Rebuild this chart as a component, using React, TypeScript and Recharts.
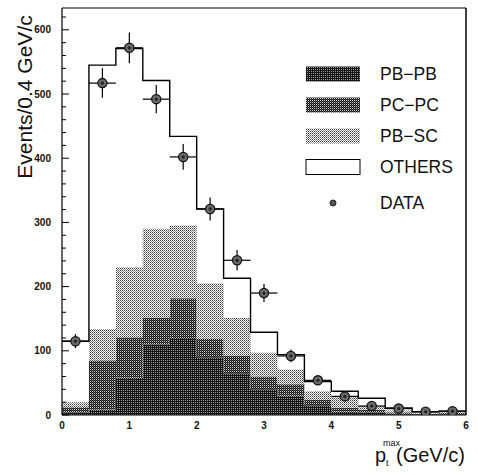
import React from 'react';
import {
  ComposedChart, Area, Scatter, ErrorBar, XAxis, YAxis, ReferenceLine, Legend,
} from 'recharts';

// Bin edges (GeV/c), 0.4 GeV wide bins
const binEdges = [0, 0.4, 0.8, 1.2, 1.6, 2.0, 2.4, 2.8, 3.2, 3.6, 4.0, 4.4, 4.8, 5.2, 5.6, 6.0];
// Per-bin stacked contributions (events / 0.4 GeV/c)
const pbpbValues = [4, 8, 58, 110, 120, 90, 65, 40, 30, 15, 5, 4, 2, 1, 1];
const pcpcValues = [8, 77, 63, 42, 62, 29, 27, 20, 18, 9, 6, 4, 2, 1, 2];
const pbscValues = [8, 49, 109, 138, 113, 86, 59, 37, 23, 13, 18, 6, 3, 1, 1];
const othersValues = [95, 411, 341, 231, 139, 116, 62, 32, 23, 15, 8, 12, 4, 2, 2];

// Data points (bin centres), values and errors
const dataX = [0.2, 0.6, 1.0, 1.4, 1.8, 2.2, 2.6, 3.0, 3.4, 3.8, 4.2, 4.6, 5.0, 5.4, 5.8];
const dataY = [115, 517, 572, 492, 402, 321, 241, 190, 92, 54, 29, 14, 10, 5, 6];
const dataYErr = [11, 23, 24, 22, 20, 18, 16, 14, 10, 7, 5, 4, 3, 2, 2];
const dataXErr = [0.2, 0.2, 0.2, 0.2, 0.2, 0.2, 0.2, 0.2, 0.2, 0.2, 0.2, 0.2, 0.2, 0.2, 0.2];

const xTicks = [0, 1, 2, 3, 4, 5, 6];
const yTicks = [0, 20, 40, 60, 80, 100, 120, 140, 160, 180, 200, 220, 240, 260, 280, 300, 320, 340, 360, 380, 400, 420, 440, 460, 480, 500, 520, 540, 560, 580, 600, 620];
const Y_MAX = 634;

const seriesNames = { pbpb: 'PB\u2212PB', pcpc: 'PC\u2212PC', pbsc: 'PB\u2212SC', others: 'OTHERS', data: 'DATA' };

const histRows = binEdges.map((edge, i) => {
  const b = Math.min(i, pbpbValues.length - 1);
  return {
    x: edge,
    pbpb: pbpbValues[b],
    pcpc: pcpcValues[b],
    pbsc: pbscValues[b],
    others: othersValues[b],
  };
});

const pointRows = dataX.map((x, i) => ({ x, y: dataY[i], ey: dataYErr[i], ex: dataXErr[i] }));

const FONT = '"Liberation Sans", Arial, Helvetica, sans-serif';

const fills: Record<string, string> = {
  pbpb: 'url(#pat-pbpb)',
  pcpc: 'url(#pat-pcpc)',
  pbsc: 'url(#pat-pbsc)',
};

const YTick = (props: any) => {
  const { x, y, payload } = props;
  const major = payload.value % 100 === 0;
  return (
    <g>
      <line x1={x} x2={x + (major ? 7 : 4)} y1={y} y2={y} stroke="#000" strokeWidth={1} />
      {major && (
        <text x={x - 11} y={y} dy="0.36em" textAnchor="end" fontSize={10} fontWeight="bold" fontFamily={FONT} fill="#111">
          {payload.value}
        </text>
      )}
    </g>
  );
};

const DataDot = (props: any) => {
  const { cx, cy } = props;
  if (cx == null || cy == null) return null;
  return (
    <g>
      <circle cx={cx} cy={cy} r={4.6} fill="#6a6a6a" stroke="#111" strokeWidth={1.3} />
      <circle cx={cx} cy={cy} r={1.6} fill="#222" />
    </g>
  );
};

const renderLegend = (props: any) => {
  const payload = props.payload || [];
  const rowY: Record<string, number> = { pbpb: 19, pcpc: 50, pbsc: 81, others: 112, data: 148 };
  return (
    <svg width={172} height={165}>
      {payload.map((entry: any) => {
        const key = entry.dataKey === 'y' ? 'data' : entry.dataKey;
        const cy = rowY[key];
        let swatch;
        if (key === 'data') {
          swatch = <circle cx={33} cy={cy} r={3} fill="#555" stroke="#222" strokeWidth={1} />;
        } else if (key === 'others') {
          swatch = <rect x={6} y={cy - 7.5} width={54} height={15} fill="#fff" stroke="#000" strokeWidth={1} />;
        } else {
          swatch = <rect x={6} y={cy - 7.5} width={54} height={15} fill={fills[key]} />;
        }
        return (
          <g key={key}>
            {swatch}
            <text x={80} y={cy} dy="0.36em" fontSize={17.5} fontFamily={FONT} fill="#111">
              {entry.value}
            </text>
          </g>
        );
      })}
    </svg>
  );
};

export default function App() {
  return (
    <div style={{ position: 'absolute', left: 0, top: 0, width: 478, height: 475, background: '#fff' }}>
      <svg width={0} height={0} style={{ position: 'absolute' }}>
        <defs>
          <pattern id="pat-pbpb" patternUnits="userSpaceOnUse" width={2} height={2}>
            <rect x={0} y={0} width={2} height={2} fill="#161616" />
            <rect x={1} y={0} width={1} height={1} fill="#9a9a9a" />
          </pattern>
          <pattern id="pat-pcpc" patternUnits="userSpaceOnUse" width={2} height={2}>
            <rect x={0} y={0} width={2} height={2} fill="#cfcfcf" />
            <rect x={0} y={0} width={1} height={1} fill="#111" />
            <rect x={1} y={1} width={1} height={1} fill="#111" />
            <rect x={1} y={0} width={1} height={1} fill="#555" />
          </pattern>
          <pattern id="pat-pbsc" patternUnits="userSpaceOnUse" width={2} height={2}>
            <rect x={0} y={0} width={2} height={2} fill="#fff" />
            <rect x={0} y={0} width={1} height={1} fill="#3a3a3a" />
            <rect x={1} y={1} width={1} height={1} fill="#8a8a8a" />
          </pattern>
        </defs>
      </svg>
      <ComposedChart
        width={478}
        height={475}
        data={histRows}
        margin={{ top: 8, right: 12, left: 0, bottom: 0 }}
      >
        <XAxis
          dataKey="x"
          type="number"
          domain={[0, 6]}
          allowDataOverflow
          ticks={xTicks}
          tickLine={false}
          tickSize={0}
          tickMargin={7}
          height={60}
          axisLine={{ stroke: '#000', strokeWidth: 1 }}
          tick={{ fontSize: 10, fontWeight: 'bold', fontFamily: FONT, fill: '#111' }}
          label={{
            content: () => (
              <text fontFamily={FONT} fill="#111">
                <tspan x={375} y={462} fontSize={20}>p</tspan>
                <tspan x={386} y={466} fontSize={9}>t</tspan>
                <tspan x={383} y={446} fontSize={9}>max</tspan>
                <tspan x={396} y={462} fontSize={20}>(GeV/c)</tspan>
              </text>
            ),
          }}
        />
        <YAxis
          type="number"
          domain={[0, Y_MAX]}
          allowDataOverflow
          ticks={yTicks}
          interval={0}
          width={62}
          tickLine={false}
          tickSize={0}
          tickMargin={0}
          axisLine={{ stroke: '#000', strokeWidth: 1.2 }}
          tick={<YTick />}
          label={{
            content: () => (
              <text
                x={24}
                y={97}
                transform="rotate(-90, 24, 97)"
                textAnchor="middle"
                dominantBaseline="central"
                fontSize={21}
                fontFamily={FONT}
                fill="#111"
              >
                Events/0.4 GeV/c
              </text>
            ),
          }}
        />
        <ReferenceLine y={Y_MAX} stroke="#000" strokeWidth={1.2} ifOverflow="extendDomain" />
        <ReferenceLine x={6} stroke="#000" strokeWidth={1.5} ifOverflow="extendDomain" />
        <Area
          type="stepAfter"
          dataKey="pbpb"
          name={seriesNames.pbpb}
          stackId="h"
          fill={fills.pbpb}
          fillOpacity={1}
          stroke="none"
          dot={false}
          activeDot={false}
          isAnimationActive={false}
        />
        <Area
          type="stepAfter"
          dataKey="pcpc"
          name={seriesNames.pcpc}
          stackId="h"
          fill={fills.pcpc}
          fillOpacity={1}
          stroke="none"
          dot={false}
          activeDot={false}
          isAnimationActive={false}
        />
        <Area
          type="stepAfter"
          dataKey="pbsc"
          name={seriesNames.pbsc}
          stackId="h"
          fill={fills.pbsc}
          fillOpacity={1}
          stroke="none"
          dot={false}
          activeDot={false}
          isAnimationActive={false}
        />
        <Area
          type="stepAfter"
          dataKey="others"
          name={seriesNames.others}
          stackId="h"
          fill="none"
          stroke="#000"
          strokeWidth={1.4}
          dot={false}
          activeDot={false}
          isAnimationActive={false}
        />
        <Scatter
          data={pointRows}
          dataKey="y"
          name={seriesNames.data}
          shape={<DataDot />}
          isAnimationActive={false}
        >
          <ErrorBar dataKey="ey" direction="y" width={0} stroke="#000" strokeWidth={1.2} />
          <ErrorBar dataKey="ex" direction="x" width={0} stroke="#000" strokeWidth={1.2} />
        </Scatter>
        <Legend
          layout="vertical"
          align="center"
          verticalAlign="middle"
          content={renderLegend}
          wrapperStyle={{ position: 'absolute', left: 300, top: 55, width: 172, height: 165 }}
        />
      </ComposedChart>
    </div>
  );
}
